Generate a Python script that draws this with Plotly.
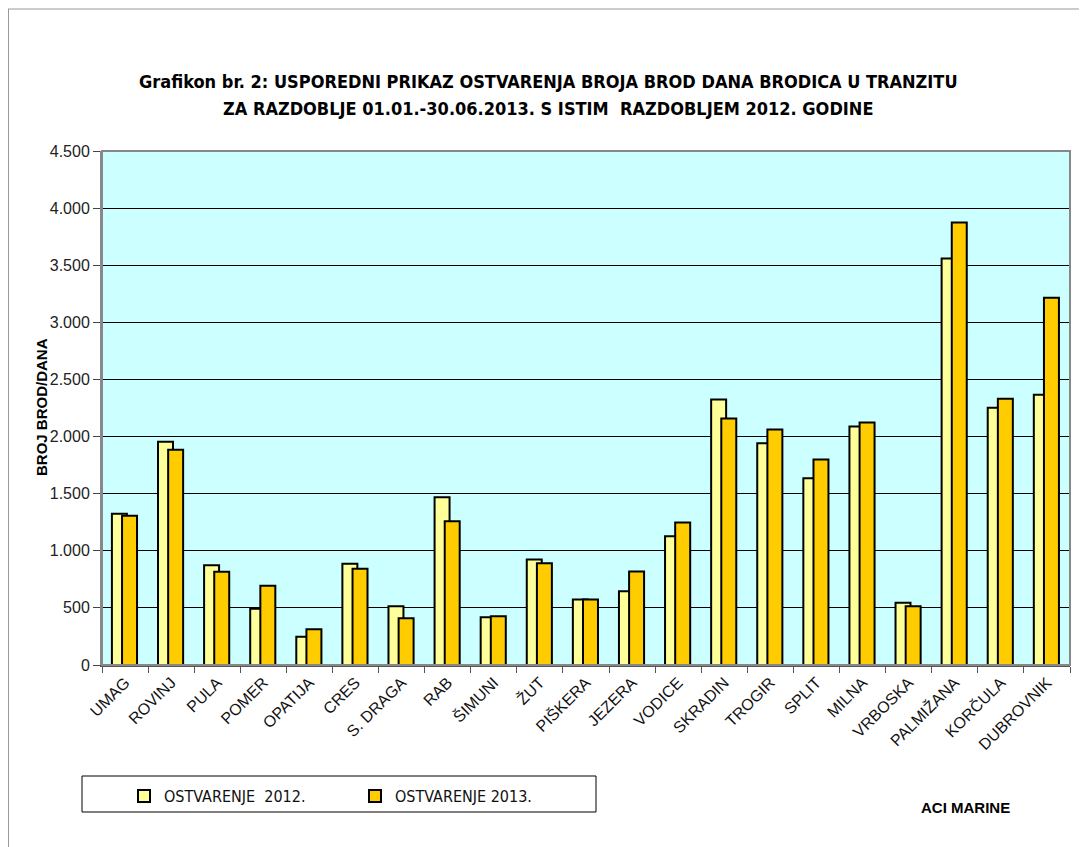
import plotly.graph_objects as go

categories = ["UMAG", "ROVINJ", "PULA", "POMER", "OPATIJA", "CRES", "S. DRAGA", "RAB",
              "ŠIMUNI", "ŽUT", "PIŠKERA", "JEZERA", "VODICE", "SKRADIN", "TROGIR", "SPLIT",
              "MILNA", "VRBOSKA", "PALMIŽANA", "KORČULA", "DUBROVNIK"]
ostv_2012 = [1325, 1955, 873, 493, 248, 887, 515, 1469, 419, 924, 574, 646, 1128,
             2325, 1942, 1636, 2088, 546, 3558, 2253, 2367]
ostv_2013 = [1307, 1885, 817, 694, 312, 843, 410, 1259, 427, 891, 574, 819, 1248,
             2158, 2062, 1800, 2123, 514, 3873, 2332, 3216]
series_names = ["OSTVARENJE  2012.", "OSTVARENJE 2013."]
y_ticks = [0, 500, 1000, 1500, 2000, 2500, 3000, 3500, 4000, 4500]

OFF = 8  # page body margin
W, H = 1087 - OFF, 847 - OFF
L, R, T, B = 102, 1070, 151, 665  # target screen coordinates of plot area


def px(x):
    return (x - L) / (R - L)


def py(y):
    return (B - y) / (B - T)


fig = go.Figure()
fig.add_trace(go.Bar(
    x=categories, y=ostv_2012, name=series_names[0],
    offset=-0.285, width=0.325,
    marker=dict(color="#FFFF99", line=dict(color="black", width=2)),
))
fig.add_trace(go.Bar(
    x=categories, y=ostv_2013, name=series_names[1],
    offset=-0.065, width=0.325,
    marker=dict(color="#FFCC00", line=dict(color="black", width=2)),
))

fig.update_layout(
    width=W, height=H,
    margin=dict(l=L - OFF, r=(W + OFF) - R, t=T - OFF, b=(H + OFF) - B, pad=0),
    paper_bgcolor="white",
    plot_bgcolor="#CCFFFF",
    barmode="overlay",
    separators=",.",
    font=dict(family="Liberation Sans, Arial, sans-serif", color="#111"),
    showlegend=True,
    legend=dict(
        orientation="h", x=px(124), y=py(796), xanchor="left", yanchor="middle",
        entrywidth=186, entrywidthmode="pixels",
        font=dict(family="DejaVu Sans Condensed, sans-serif", size=16, color="#111"),
        bgcolor="rgba(0,0,0,0)", itemwidth=30,
    ),
    xaxis=dict(
        type="category", tickangle=-45, tickson="boundaries",
        ticks="outside", ticklen=6, tickcolor="#555", tickwidth=1,
        showline=True, linecolor="#555", linewidth=2,
        tickfont=dict(size=16, color="#111"),
        showgrid=False, range=[-0.5, len(categories) - 0.5],
    ),
    yaxis=dict(
        range=[0, 4500], tickvals=y_ticks, tickformat=",d",
        ticks="outside", ticklen=7, tickcolor="#444", tickwidth=1,
        showline=True, linecolor="#888", linewidth=2,
        showgrid=True, gridcolor="black", gridwidth=1,
        tickfont=dict(size=16, color="#222"),
        zeroline=False,
    ),
)

shapes = [
    # plot area border
    dict(type="rect", xref="paper", yref="paper", x0=0, x1=1, y0=0, y1=1,
         line=dict(color="#888", width=2), layer="above"),
    # outer frame
    dict(type="line", xref="paper", yref="paper", x0=px(4), x1=px(1090), y0=py(9), y1=py(9),
         line=dict(color="#999", width=1)),
    dict(type="line", xref="paper", yref="paper", x0=px(8.5), x1=px(8.5), y0=py(9), y1=py(850),
         line=dict(color="#999", width=1)),
    # legend box
    dict(type="rect", xref="paper", yref="paper", x0=px(82), x1=px(596), y0=py(812), y1=py(776),
         line=dict(color="black", width=1)),
]
fig.update_layout(shapes=shapes)

title_font = dict(family="DejaVu Sans Condensed, sans-serif", size=18, color="black")
fig.add_annotation(xref="paper", yref="paper", x=px(548), y=py(81), showarrow=False,
                   text="<b>Grafikon br. 2: USPOREDNI PRIKAZ OSTVARENJA BROJA BROD DANA BRODICA U TRANZITU</b>",
                   font=title_font, xanchor="center", yanchor="middle")
fig.add_annotation(xref="paper", yref="paper", x=px(548), y=py(108), showarrow=False,
                   text="<b>ZA RAZDOBLJE 01.01.-30.06.2013. S ISTIM  RAZDOBLJEM 2012. GODINE</b>",
                   font=title_font, xanchor="center", yanchor="middle")
fig.add_annotation(xref="paper", yref="paper", x=px(41), y=py(407), showarrow=False,
                   text="<b>BROJ BROD/DANA</b>", textangle=-90,
                   font=dict(family="Liberation Sans, Arial, sans-serif", size=15, color="black"),
                   xanchor="center", yanchor="middle")
fig.add_annotation(xref="paper", yref="paper", x=px(965), y=py(807), showarrow=False,
                   text="<b>ACI MARINE</b>",
                   font=dict(family="Liberation Sans, Arial, sans-serif", size=15, color="black"),
                   xanchor="center", yanchor="middle")

fig.write_html("out.html")
